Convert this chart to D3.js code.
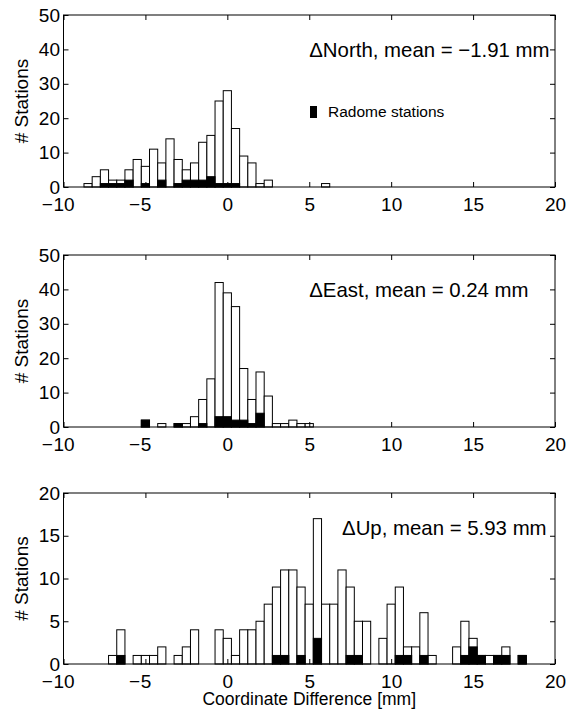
<!DOCTYPE html>
<html><head><meta charset="utf-8">
<script src="https://cdn.jsdelivr.net/npm/d3@7"></script>
<style>body{margin:0;background:#fff} svg text{font-family:"Liberation Sans",Arial,Helvetica,sans-serif}</style>
</head><body><svg id="c" width="568" height="711"></svg>
<script>
// ---- data ----
const xTicks = [-10, -5, 0, 5, 10, 15, 20];
const yTicksNE = [0, 10, 20, 30, 40, 50];
const yTicksUp = [0, 5, 10, 15, 20];

const northCenters = [-8.5,-8,-7.5,-7,-6.5,-6,-5.5,-5,-4.5,-4,-3.5,-3,-2.5,-2,-1.5,-1,-0.5,0,0.5,1,1.5,2,2.5,6];
const northAll     = [1,3,5,2,2,5,8,6,11,7,14,8,5,7,13,15,25,28,17,9,7,1,2,1];
const northRadome  = [0,0,1,1,1,2,0,1,0,2,0,1,2,2,2,3,1,1,1,0,0,0,0,0];

const eastCenters = [-5,-4,-3,-2.5,-2,-1.5,-1,-0.5,0,0.5,1,1.5,2,2.5,3,3.5,4,4.5,5];
const eastAll     = [2,1,1,1,3,8,14,42,39,35,17,8,16,9,1,1,2,1,1];
const eastRadome  = [2,0,1,0,0,1,0,3,3,2,2,1,4,0,0,0,0,0,0];

const upCenters = [-7,-6.5,-5.5,-5,-4.5,-4,-3,-2.5,-2,-0.5,0,0.5,1,1.5,2,2.5,3,3.5,4,4.5,5,5.5,6,6.5,7,7.5,8,8.5,9.5,10,10.5,11,11.5,12,12.5,14,14.5,15,15.5,16,16.5,17,18];
const upAll     = [1,4,1,1,1,2,1,2,4,4,3,1,4,4,5,7,9,11,11,9,7,17,7,7,11,9,5,5,3,7,9,2,2,6,1,2,5,3,1,1,1,2,1];
const upRadome  = [0,1,0,0,0,0,0,0,0,0,0,0,0,0,0,0,1,1,0,1,0,3,0,0,0,1,1,0,0,0,1,1,0,1,0,0,1,2,1,0,1,1,1];

const panelLabels = ["\u0394North, mean = \u22121.91 mm", "\u0394East, mean = 0.24 mm", "\u0394Up, mean = 5.93 mm"];
const labelXs = [5, 5, 7];
const yMaxes = [50, 50, 20];
const binWidth = 0.5;
const yTitle = "# Stations";
const xTitle = "Coordinate Difference [mm]";
const legendText = "Radome stations";

// ---- layout ----
const svg = d3.select("#c");
const left = 63.5, right = 555;
const panelBoxes = [[15, 187], [255, 427], [493, 664]];
const x = d3.scaleLinear().domain([-10, 20]).range([left, right]);

const panels = [
  {centers: northCenters, all: northAll, radome: northRadome, ticks: yTicksNE},
  {centers: eastCenters, all: eastAll, radome: eastRadome, ticks: yTicksNE},
  {centers: upCenters, all: upAll, radome: upRadome, ticks: yTicksUp}
];

panels.forEach((p, i) => {
  const [top, bottom] = panelBoxes[i];
  const y = d3.scaleLinear().domain([0, yMaxes[i]]).range([bottom, top]);
  const g = svg.append("g");
  const rows = p.centers.map((c, k) => ({c, n: p.all[k], r: p.radome[k]}));

  g.selectAll("rect.all").data(rows.filter(d => d.n > 0)).join("rect")
    .attr("x", d => x(d.c - binWidth / 2)).attr("width", d => x(d.c + binWidth / 2) - x(d.c - binWidth / 2))
    .attr("y", d => y(d.n)).attr("height", d => y(0) - y(d.n))
    .attr("fill", "#fff").attr("stroke", "#000").attr("stroke-width", 1);
  g.selectAll("rect.rad").data(rows.filter(d => d.r > 0)).join("rect")
    .attr("x", d => x(d.c - binWidth / 2)).attr("width", d => x(d.c + binWidth / 2) - x(d.c - binWidth / 2))
    .attr("y", d => y(d.r)).attr("height", d => y(0) - y(d.r))
    .attr("fill", "#000").attr("stroke", "#000").attr("stroke-width", 1);

  // frame
  g.append("rect").attr("x", left).attr("y", top).attr("width", right - left).attr("height", bottom - top)
    .attr("fill", "none").attr("stroke", "#000").attr("stroke-width", 1);

  const styleAxis = a => { a.attr("font-size", 19).attr("font-family", null); a.selectAll(".domain").remove(); a.selectAll("text").attr("fill", "#000"); };

  const ax = g.append("g").attr("transform", `translate(0,${bottom})`)
    .call(d3.axisBottom(x).tickValues(xTicks).tickSizeInner(-5).tickSizeOuter(0).tickPadding(10.5).tickFormat(d => String(Math.abs(d))));
  styleAxis(ax);
  ax.selectAll(".tick").each(function(d) {
    if (d < 0) {
      const t = d3.select(this).select("text");
      const w = t.node().getComputedTextLength();
      d3.select(this).append("text").attr("fill", "#000").attr("y", 10.5).attr("dy", "0.71em")
        .attr("x", -w / 2 - 0.5).attr("text-anchor", "end").text("\u2212");
    }
  });
  const at = g.append("g").attr("transform", `translate(0,${top})`)
    .call(d3.axisTop(x).tickValues(xTicks).tickSizeInner(-5).tickSizeOuter(0).tickFormat(""));
  styleAxis(at);
  const ay = g.append("g").attr("transform", `translate(${left},0)`)
    .call(d3.axisLeft(y).tickValues(p.ticks).tickSizeInner(-5).tickSizeOuter(0).tickPadding(3.5).tickFormat(d3.format("d")));
  styleAxis(ay);
  const ar = g.append("g").attr("transform", `translate(${right},0)`)
    .call(d3.axisRight(y).tickValues(p.ticks).tickSizeInner(-5).tickSizeOuter(0).tickFormat(""));
  styleAxis(ar);

  // y title
  g.append("text").attr("transform", `translate(28,${(top + bottom) / 2}) rotate(-90)`)
    .attr("text-anchor", "middle").attr("font-size", 19).text(yTitle);

  // annotation
  g.append("text").attr("x", x(labelXs[i])).attr("y", top + 42).attr("font-size", 20.4).text(panelLabels[i]);

  if (i === 0) {
    g.append("rect").attr("x", 310).attr("y", 106).attr("width", 7).attr("height", 12).attr("fill", "#000");
    g.append("text").attr("x", 328).attr("y", 117.3).attr("font-size", 15.5).text(legendText);
  }
});

svg.append("text").attr("x", (left + right) / 2).attr("y", 705).attr("text-anchor", "middle")
  .attr("font-size", 17.5).text(xTitle);
</script>
</body></html>
